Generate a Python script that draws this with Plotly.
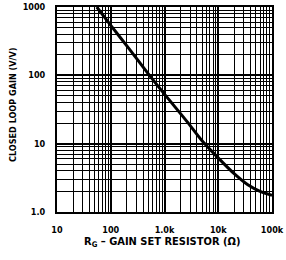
import plotly.graph_objects as go

# Data
rg_ohms = [55, 100, 224, 500, 1000, 2630, 5000, 9550, 20000, 35500, 60000, 100000]
gain_vv = [1000, 540, 240, 105, 53, 21, 11, 6.4, 3.6, 2.5, 2.0, 1.75]

x_tick_vals = [10, 100, 1000, 10000, 100000]
x_tick_text = ["10", "100", "1.0k", "10k", "100k"]
y_tick_vals = [1, 10, 100, 1000]
y_tick_text = ["1.0", "10", "100", "1000"]

FONT = "DejaVu Sans Condensed, Liberation Sans Narrow, Arial Narrow, sans-serif"

fig = go.Figure()
fig.add_trace(go.Scatter(
    x=rg_ohms, y=gain_vv, mode="lines",
    line=dict(color="black", width=3, shape="spline", smoothing=0.8),
    hoverinfo="skip", showlegend=False,
))

axis_common = dict(
    type="log",
    automargin=False,
    showgrid=True, gridcolor="black", gridwidth=2,
    showline=True, linecolor="black", linewidth=2, mirror=True,
    zeroline=False,
    ticks="",
    ticklabeloverflow="allow",
    tickfont=dict(family=FONT, size=9, color="black", weight="bold"),
    minor=dict(dtick="D1", showgrid=True, gridcolor="black", gridwidth=1, ticks=""),
)

fig.update_xaxes(
    range=[1, 5], tickvals=x_tick_vals, ticktext=x_tick_text,
    ticklabelstandoff=8,
    **axis_common,
)
fig.update_yaxes(
    range=[0, 3], tickvals=y_tick_vals, ticktext=y_tick_text,
    ticklabelstandoff=8,
    **axis_common,
)

fig.add_annotation(
    text="R<sub>G</sub> – GAIN SET RESISTOR (Ω)",
    xref="paper", yref="paper", x=0.488, y=-0.145,
    xanchor="center", yanchor="middle", showarrow=False,
    font=dict(family=FONT, size=11, color="black", weight="bold"),
)
fig.add_annotation(
    text="CLOSED LOOP GAIN (V/V)",
    xref="paper", yref="paper", x=-0.205, y=0.522, textangle=-90,
    xanchor="center", yanchor="middle", showarrow=False,
    font=dict(family=FONT, size=9, color="black", weight="bold"),
)

fig.update_layout(
    width=286, height=260,
    margin=dict(l=57, r=14, t=7, b=48),
    plot_bgcolor="white", paper_bgcolor="white",
)

fig.write_html("out.html", config={"displayModeBar": False},
               post_script="document.body.style.margin='0';")
